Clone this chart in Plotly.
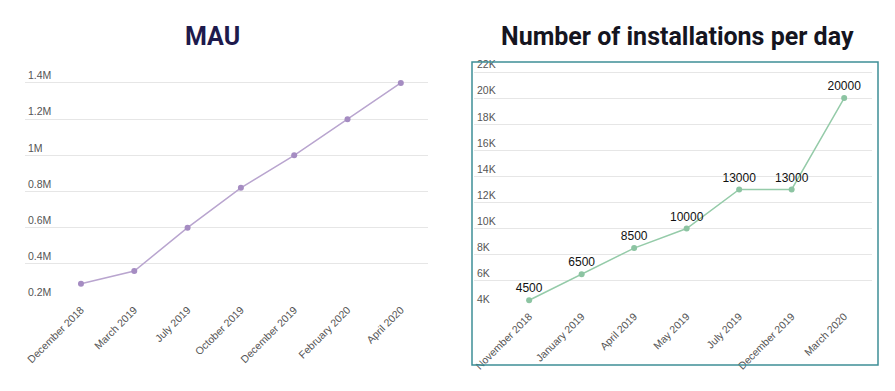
import plotly.graph_objects as go

W, H = 895, 391

mau_months = ["December 2018", "March 2019", "July 2019", "October 2019",
              "December 2019", "February 2020", "April 2020"]
mau_values = [290000, 360000, 600000, 820000, 1000000, 1200000, 1400000]
mau_ticks = [200000, 400000, 600000, 800000, 1000000, 1200000, 1400000]
mau_ticktext = ["0.2M", "0.4M", "0.6M", "0.8M", "1M", "1.2M", "1.4M"]

inst_months = ["November 2018", "January 2019", "April 2019", "May 2019",
               "July 2019", "December 2019", "March 2020"]
inst_values = [4500, 6500, 8500, 10000, 13000, 13000, 20000]
inst_ticks = [4000, 6000, 8000, 10000, 12000, 14000, 16000, 18000, 20000, 22000]
inst_ticktext = ["4K", "6K", "8K", "10K", "12K", "14K", "16K", "18K", "20K", "22K"]

def px_x(p):
    return p / W

def px_y(p):
    return (H - p) / H

fig = go.Figure()

fig.add_trace(go.Scatter(
    x=mau_months, y=mau_values, mode="lines+markers",
    line=dict(color="#b9a5cf", width=1.5),
    marker=dict(color="#a58cc2", size=6),
    cliponaxis=False, xaxis="x", yaxis="y", showlegend=False,
))

fig.add_trace(go.Scatter(
    x=inst_months, y=inst_values, mode="lines+markers+text",
    text=[str(v) for v in inst_values], textposition="top center",
    textfont=dict(family="Liberation Sans, Arial", size=12, color="#111111"),
    line=dict(color="#95cba9", width=1.5),
    marker=dict(color="#8cc4a2", size=6),
    cliponaxis=False, xaxis="x2", yaxis="y2", showlegend=False,
))

tickfont = dict(family="Liberation Sans, Arial", size=10.5, color="#555555")

common_x = dict(type="category", tickangle=-45, tickfont=tickfont,
                showgrid=False, showline=False, zeroline=False, ticks="")
common_y = dict(showgrid=True, gridcolor="#e6e6e6", gridwidth=1,
                zeroline=False, showline=False, ticks="",
                ticklabelposition="inside top", tickfont=tickfont)

# left: 1.4M at y=83px, 0.2M at y=300px  (180.8 px per 1M)
# right: 22K at y=72px, 4K at y=306.7px  (13.04 px per 1K)
fig.update_layout(
    width=W, height=H,
    margin=dict(l=0, r=0, t=0, b=0),
    paper_bgcolor="white", plot_bgcolor="white",
    xaxis=dict(domain=[px_x(25), px_x(428)], range=[-1.05, 6.51],
               anchor="y", **common_x),
    yaxis=dict(domain=[px_y(300.9), px_y(66.7)], range=[195000, 1490000],
               tickvals=mau_ticks, ticktext=mau_ticktext,
               anchor="x", **common_y),
    xaxis2=dict(domain=[px_x(474), px_x(872)], range=[-1.05, 6.53],
                anchor="y2", **common_x),
    yaxis2=dict(domain=[px_y(307.4), px_y(57.7)], range=[3950, 23100],
                tickvals=inst_ticks, ticktext=inst_ticktext,
                anchor="x2", **common_y),
    shapes=[dict(type="rect", xref="paper", yref="paper",
                 x0=px_x(472), x1=px_x(878), y0=px_y(365), y1=px_y(62),
                 line=dict(color="#3e8e96", width=1.5), fillcolor="rgba(0,0,0,0)")],
    annotations=[
        dict(text="<b>MAU</b>", xref="paper", yref="paper",
             x=px_x(212), y=px_y(36), xanchor="center", yanchor="middle",
             showarrow=False,
             font=dict(family="Roboto", size=25, color="#1e1a4c")),
        dict(text="<b>Number of installations per day</b>", xref="paper", yref="paper",
             x=px_x(677), y=px_y(36), xanchor="center", yanchor="middle",
             showarrow=False,
             font=dict(family="Roboto", size=25, color="#15151f")),
    ],
)

fig.write_html("out.html", config={"displayModeBar": False},
               post_script="document.body.style.margin='0';")
